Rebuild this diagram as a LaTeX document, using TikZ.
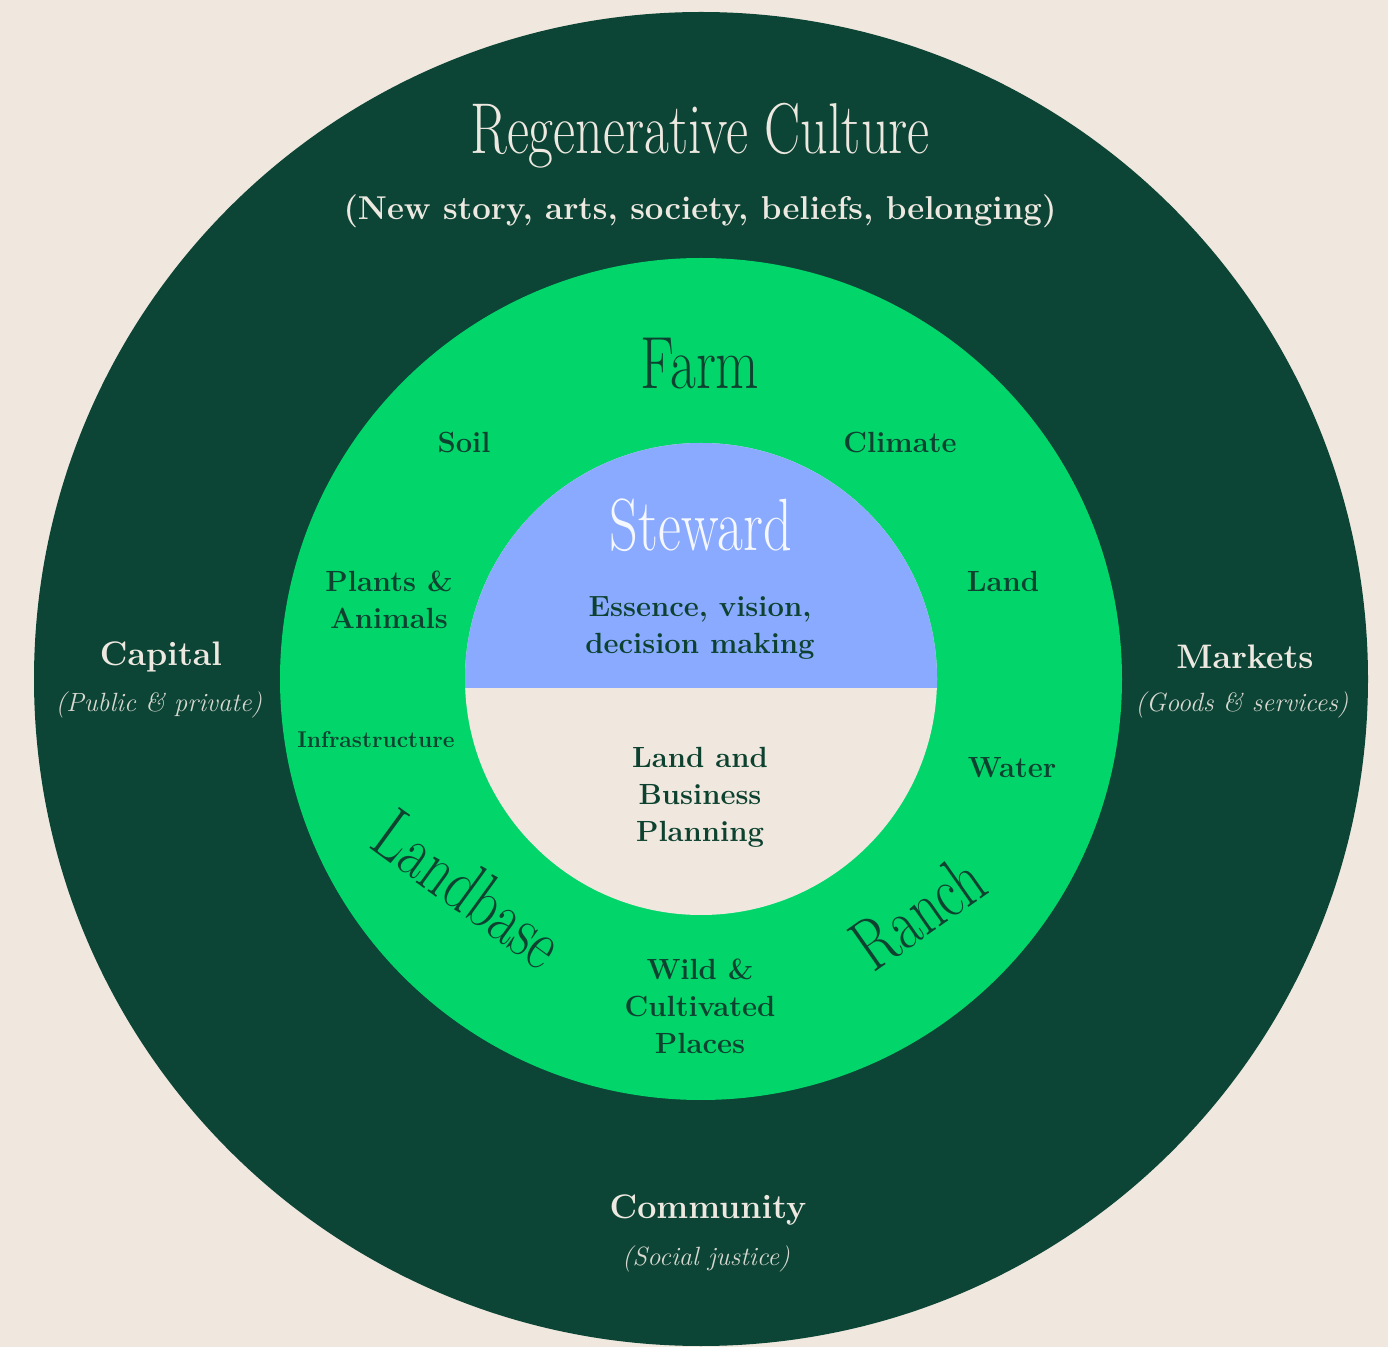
\documentclass[tikz,border=0pt]{standalone}
\usepackage{tikz}
\usetikzlibrary{calc}
\definecolor{cream}{RGB}{240,232,222}
\definecolor{darkgreen}{RGB}{12,68,54}
\definecolor{brightgreen}{RGB}{2,214,106}
\definecolor{myblue}{RGB}{137,170,255}
\definecolor{inktext}{RGB}{14,66,48}
\definecolor{paletext}{RGB}{238,233,224}
\newcommand{\condensed}[1]{\scalebox{0.76}[1]{#1}}
\tikzstyle{head} = [inner sep=0, font=\fontsize{37}{37}\selectfont]
\tikzstyle{outerlabel} = [inner sep=0, text=paletext,
    font=\fontsize{17}{20}\selectfont\bfseries, align=center]
\tikzstyle{outersub} = [inner sep=0, text=paletext!90!darkgreen,
    font=\fontsize{13.2}{15}\selectfont\itshape]
\tikzstyle{ringlabel} = [inner sep=0, text=inktext,
    font=\fontsize{14.6}{18.5}\selectfont\bfseries, align=center]

\begin{document}
\begin{tikzpicture}[x=0.5pt, y=-0.5pt]

\useasboundingbox (0,0) rectangle (1388,1347);
\fill[cream] (0,0) rectangle (1388,1347);

%%% rings
\fill[darkgreen] (701,679) circle (667);
\fill[brightgreen] (701,679) circle (421);
\fill[cream] (701,679) circle (236);
\begin{scope}
\clip (701,679) circle (236);
\fill[myblue] (460,440) rectangle (942,688);
\end{scope}


%%% culture ring
\node[head, text=paletext, font=\fontsize{36}{36}\selectfont] (culture) at (700,136) {\scalebox{0.75}[1]{Regenerative Culture}};
\node[outerlabel, font=\fontsize{16.5}{20}\selectfont\bfseries] (culturesub) at (700,211) {(New story, arts, society, beliefs, belonging)};

\node[outerlabel] (capital) at (161,657) {Capital};
\node[outersub] (capitalsub) at (159,705) {(Public \& private)};
\node[outerlabel] (markets) at (1245,657) {Markets};
\node[outersub] (marketssub) at (1242,705) {(Goods \& services)};
\node[outerlabel] (community) at (708,1210) {Community};
\node[outersub] (communitysub) at (706,1259) {(Social justice)};


%%% landbase ring
\node[head, text=inktext] (farm) at (700,364) {\condensed{Farm}};
\node[head, text=inktext, rotate=-36] (landbase) at (469,889) {\condensed{Landbase}};
\node[head, text=inktext, rotate=35] (ranch) at (918,912) {\condensed{Ranch}};

\node[ringlabel] (soil) at (464,442) {Soil};
\node[ringlabel] (climate) at (900,442) {Climate};
\node[ringlabel] (plants) at (389,600) {Plants \&\\ Animals};
\node[ringlabel] (land) at (1003,581) {Land};
\node[ringlabel, font=\fontsize{11.4}{12}\selectfont\bfseries] (infra) at (376,740) {Infrastructure};
\node[ringlabel] (water) at (1012,768) {Water};
\node[ringlabel] (wild) at (700,1006) {Wild \&\\ Cultivated\\ Places};


%%% steward
\node[head, text=white!92!myblue] (steward) at (701,525) {\condensed{Steward}};
\node[ringlabel] (essence) at (700,628) {Essence, vision,\\ decision making};
\node[ringlabel] (planning) at (700,797) {Land and\\ Business\\ Planning};

\end{tikzpicture}
\end{document}
